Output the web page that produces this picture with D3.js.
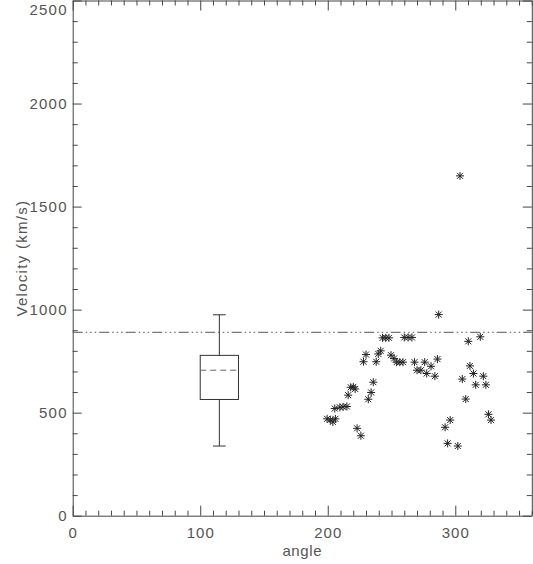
<!DOCTYPE html>
<html>
<head>
<meta charset="utf-8">
<script src="https://cdn.jsdelivr.net/npm/d3@7"></script>
<style>
  body { margin: 0; background: #fff; }
  text { font-family: "Liberation Sans", Arial, sans-serif; fill: #555; }
  .axis path, .axis line { stroke: #444; }
</style>
</head>
<body>
<div id="chart"></div>
<script>
// scatter points
const angle = [199.5, 202, 204, 206, 205.5, 209.5, 212, 215, 216, 218, 220, 221.5, 223, 226,
  228, 230, 231.8, 234, 235.7, 238, 239.6, 241.5, 243, 245.5, 248, 249.6, 252, 254, 256.5, 259,
  260, 263, 266, 268, 270, 273, 276, 277.6, 281, 284, 286, 287, 292, 294, 296, 302, 303.7,
  305.5, 308.2, 310.2, 311.5, 314.2, 316, 319.6, 322, 324, 326, 328];
const velocity = [470, 465, 455, 470, 520, 526, 528, 530, 585, 623, 625, 615, 424, 388,
  747, 782, 565, 598, 648, 747, 785, 800, 863, 863, 863, 779, 763, 745, 745, 745,
  865, 865, 865, 745, 706, 706, 745, 690, 725, 677, 760, 976, 429, 351, 464, 338, 1649,
  663, 566, 846, 727, 690, 635, 868, 677, 635, 492, 464];

// box: angle span, whisker low, q1, median, q3, whisker high
const boxAngle = [100, 130];
const capAngle = [110, 120];
const boxValues = [338, 564, 706, 778, 975];
const refVelocity = 890;

const xTicks = [0, 100, 200, 300];
const yTicks = [0, 500, 1000, 1500, 2000, 2500];

var w = 533;
var h = 564;

var xScale = d3.scaleLinear().domain([0, 360]).range([72.7, 531.8]);
var yScale = d3.scaleLinear().domain([0, 2500]).range([515.7, 0.5]);

var svg = d3.select("#chart").append("svg")
  .attr("width", w)
  .attr("height", h);

var x0 = xScale.range()[0], x1 = xScale.range()[1];
var y0 = yScale.range()[0], y1 = yScale.range()[1];

var xMinor = d3.range(0, 361, 10).filter(d => d % 100 !== 0);
var yMinor = d3.range(0, 2501, 100).filter(d => d % 500 !== 0);

// bottom axis
svg.append("g").attr("class", "axis")
  .attr("transform", "translate(0," + y0 + ")")
  .call(d3.axisBottom(xScale).tickValues(xTicks).tickFormat(d3.format("d"))
    .tickSizeInner(-10).tickSizeOuter(0).tickPadding(12))
  .call(g => g.selectAll("text").style("font-size", "15px").style("letter-spacing", "1px").attr("fill", "#555"));
svg.append("g").attr("class", "axis")
  .attr("transform", "translate(0," + y0 + ")")
  .call(d3.axisBottom(xScale).tickValues(xMinor).tickSizeInner(-5).tickSizeOuter(0).tickFormat(""))
  .call(g => g.select(".domain").remove());

// top axis
svg.append("g").attr("class", "axis")
  .attr("transform", "translate(0," + y1 + ")")
  .call(d3.axisTop(xScale).tickValues(xTicks).tickSizeInner(-10).tickSizeOuter(0).tickFormat(""));
svg.append("g").attr("class", "axis")
  .attr("transform", "translate(0," + y1 + ")")
  .call(d3.axisTop(xScale).tickValues(xMinor).tickSizeInner(-5).tickSizeOuter(0).tickFormat(""))
  .call(g => g.select(".domain").remove());

// left axis
svg.append("g").attr("class", "axis")
  .attr("transform", "translate(" + x0 + ",0)")
  .call(d3.axisLeft(yScale).tickValues(yTicks).tickFormat(d3.format("d"))
    .tickSizeInner(-9).tickSizeOuter(0).tickPadding(5))
  .call(g => g.selectAll("text").style("font-size", "15px").style("letter-spacing", "1.2px").attr("fill", "#555"))
  // keep the top label inside the page
  .call(g => g.selectAll(".tick").filter(d => d === 2500).select("text").attr("dy", "0.9em"));
svg.append("g").attr("class", "axis")
  .attr("transform", "translate(" + x0 + ",0)")
  .call(d3.axisLeft(yScale).tickValues(yMinor).tickSizeInner(-5).tickSizeOuter(0).tickFormat(""))
  .call(g => g.select(".domain").remove());

// right axis
svg.append("g").attr("class", "axis")
  .attr("transform", "translate(" + x1 + ",0)")
  .call(d3.axisRight(yScale).tickValues(yTicks).tickSizeInner(-9).tickSizeOuter(0).tickFormat(""));
svg.append("g").attr("class", "axis")
  .attr("transform", "translate(" + x1 + ",0)")
  .call(d3.axisRight(yScale).tickValues(yMinor).tickSizeInner(-5).tickSizeOuter(0).tickFormat(""))
  .call(g => g.select(".domain").remove());

// axis titles
svg.append("text")
  .attr("x", (x0 + x1) / 2)
  .attr("y", 556)
  .attr("text-anchor", "middle")
  .style("font-size", "15px")
  .style("letter-spacing", "0.6px")
  .text("angle");

svg.append("text")
  .attr("transform", "translate(27," + (y0 + y1) / 2 + ") rotate(-90)")
  .attr("text-anchor", "middle")
  .style("font-size", "15px")
  .style("letter-spacing", "1.3px")
  .text("Velocity (km/s)");

// reference line
svg.append("line")
  .attr("x1", x0).attr("x2", x1)
  .attr("y1", yScale(refVelocity)).attr("y2", yScale(refVelocity))
  .attr("stroke", "#555")
  .attr("stroke-dasharray", "10,3,1.5,3,1.5,3,1.5,3");

// box plot
var bx = xScale(boxAngle[0]), bw = xScale(boxAngle[1]) - xScale(boxAngle[0]);
var bc = xScale((boxAngle[0] + boxAngle[1]) / 2);
var box = svg.append("g").attr("stroke", "#333").attr("fill", "none");
box.append("line").attr("x1", bc).attr("x2", bc)
  .attr("y1", yScale(boxValues[0])).attr("y2", yScale(boxValues[1]));
box.append("line").attr("x1", bc).attr("x2", bc)
  .attr("y1", yScale(boxValues[3])).attr("y2", yScale(boxValues[4]));
[boxValues[0], boxValues[4]].forEach(v => {
  box.append("line")
    .attr("x1", xScale(capAngle[0])).attr("x2", xScale(capAngle[1]))
    .attr("y1", yScale(v)).attr("y2", yScale(v));
});
box.append("rect")
  .attr("x", bx).attr("width", bw)
  .attr("y", yScale(boxValues[3]))
  .attr("height", yScale(boxValues[1]) - yScale(boxValues[3]));
box.append("line")
  .attr("x1", bx).attr("x2", bx + bw)
  .attr("y1", yScale(boxValues[2])).attr("y2", yScale(boxValues[2]))
  .attr("stroke", "#666")
  .attr("stroke-dasharray", "6,4");

// asterisks
var star = "M-4,0H4M0,-4V4M-3,-3L3,3M-3,3L3,-3";
svg.append("g").selectAll("path")
  .data(angle.map((a, i) => ({ a: a, v: velocity[i] })))
  .enter()
  .append("path")
  .attr("transform", d => "translate(" + xScale(d.a) + "," + yScale(d.v) + ")")
  .attr("d", star)
  .attr("stroke", "#222")
  .attr("stroke-width", 1)
  .attr("fill", "none");
</script>
</body>
</html>
